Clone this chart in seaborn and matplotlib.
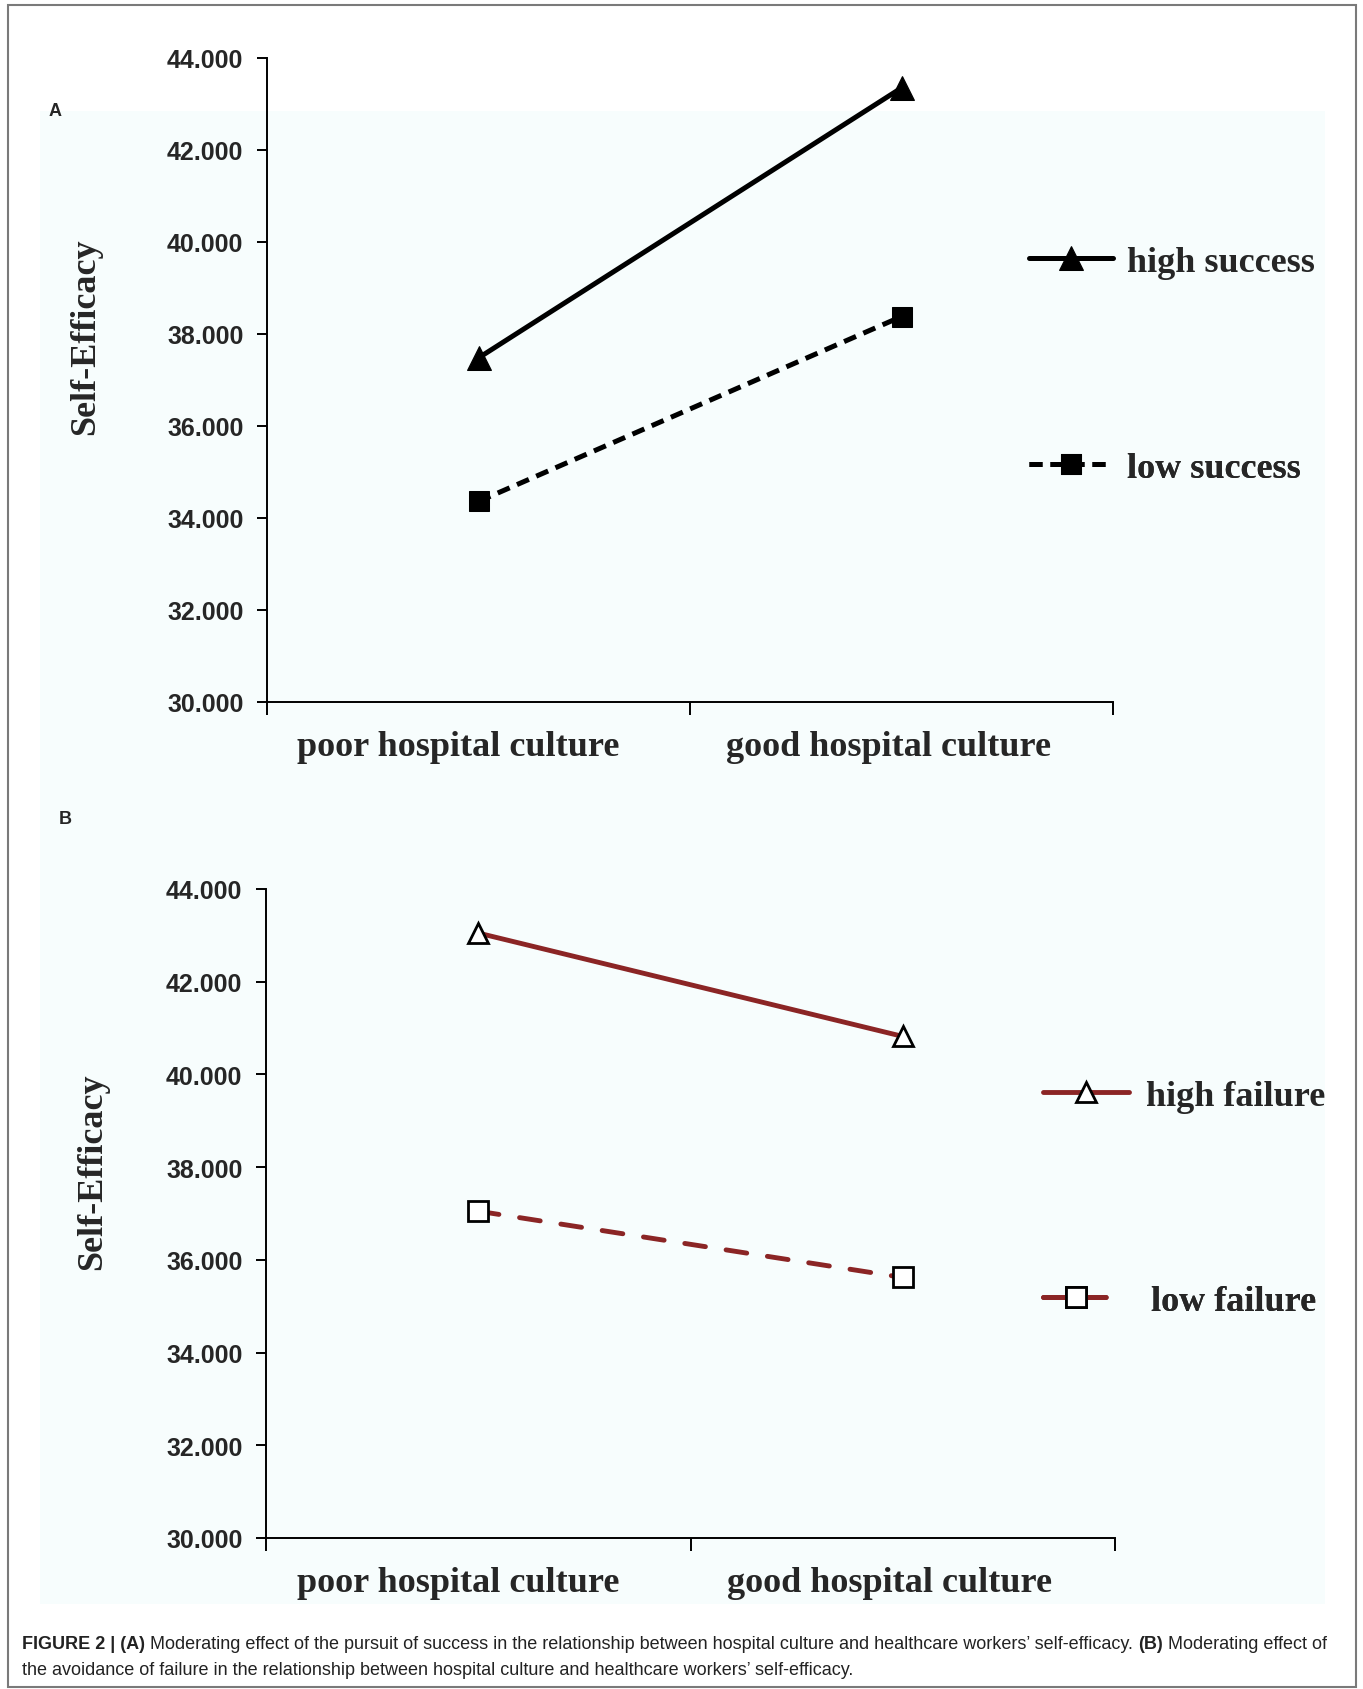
import numpy as np
import pandas as pd
import matplotlib
matplotlib.use("Agg")
import matplotlib.pyplot as plt
import seaborn as sns
from matplotlib.patches import Rectangle
from matplotlib.ticker import FixedLocator, FuncFormatter

# ---------------- data ----------------
categories = ["poor hospital culture", "good hospital culture"]
high_success = [37.48, 43.35]
low_success = [34.36, 38.38]
high_failure = [43.05, 40.82]
low_failure = [37.05, 35.62]
y_ticks = [30, 32, 34, 36, 38, 40, 42, 44]
legend_a = ["high success", "low success"]
legend_b = ["high failure", "low failure"]
caption_line1 = [("FIGURE 2 | (A)", "bold"),
                 ("Moderating effect of the pursuit of success in the relationship between hospital culture and healthcare workers\u2019 self-efficacy.", "normal"),
                 ("(B)", "bold"),
                 ("Moderating effect of", "normal")]
caption_line2 = [("the avoidance of failure in the relationship between hospital culture and healthcare workers\u2019 self-efficacy.", "normal")]

W, H = 1363, 1690
DPI = 100
sns.set_theme(style="white")
plt.rcParams["font.family"] = ["Liberation Sans", "DejaVu Sans"]

fig = plt.figure(figsize=(W / DPI, H / DPI), dpi=DPI, facecolor="white")

def fx(px):
    return px / W

def fy(py):
    return 1 - py / H

# light background panel + outer frame
fig.patches.append(Rectangle((fx(40), fy(1605)), fx(1325) - fx(40), fy(112) - fy(1605),
                             transform=fig.transFigure, facecolor="#f7fdfd", edgecolor="none", zorder=-10))
fig.patches.append(Rectangle((fx(8), fy(1688)), fx(1356) - fx(8), fy(6) - fy(1688),
                             transform=fig.transFigure, facecolor="none", edgecolor="#7a7a7a", lw=1.5, zorder=-10))

SERIF = ["Liberation Serif", "DejaVu Serif"]
RED = "#8b2525"

def make_axes(left, top, right, bottom):
    ax = fig.add_axes([fx(left), fy(bottom), fx(right) - fx(left), fy(top) - fy(bottom)])
    ax.set_facecolor("none")
    ax.set_zorder(1)
    return ax

def style_axes(ax):
    ax.set_xlim(-0.5, 1.5)
    ax.set_ylim(30, 44)
    for s in ["top", "right"]:
        ax.spines[s].set_visible(False)
    for s in ["left", "bottom"]:
        ax.spines[s].set_color("black")
        ax.spines[s].set_linewidth(1.4)
    ax.yaxis.set_major_locator(FixedLocator(y_ticks))
    ax.yaxis.set_major_formatter(FuncFormatter(lambda v, p: f"{v:.3f}"))
    ax.tick_params(axis="y", direction="out", length=7, width=1.4, color="black",
                   labelsize=18, pad=10, left=True)
    for lab in ax.get_yticklabels():
        lab.set_fontweight("bold")
        lab.set_family(["Liberation Sans", "DejaVu Sans"])
    ax.xaxis.set_major_locator(FixedLocator([-0.5, 0.5, 1.5]))
    # category labels sit slightly left of the category centres in the original
    ax.xaxis.set_minor_locator(FixedLocator([-0.048, 0.969]))
    ax.set_xticklabels([], minor=False)
    ax.set_xticklabels(categories, minor=True)
    ax.tick_params(axis="x", which="major", direction="out", length=9, width=1.4,
                   color="black", bottom=True)
    ax.tick_params(axis="x", which="minor", length=0, labelsize=26, pad=20, bottom=True)
    for lab in ax.get_xticklabels(minor=True):
        lab.set_fontweight("bold")
        lab.set_family(SERIF)
    ax.set_xlabel("")
    ax.set_ylabel("")

# ---------------- panel A ----------------
axA = make_axes(267, 59, 1113, 703)
sns.lineplot(x=categories, y=high_success, ax=axA, color="black", lw=3.6, marker="^",
             markersize=17, markeredgecolor="black", sort=False, errorbar=None)
lA1 = axA.lines[-1]
sns.lineplot(x=categories, y=low_success, ax=axA, color="black", lw=3.6, marker="s",
             markersize=15, markeredgecolor="black", sort=False, errorbar=None)
lA2 = axA.lines[-1]
lA2.set_dashes((2.6, 1.6))
style_axes(axA)
if axA.get_legend():
    axA.get_legend().remove()

# ---------------- panel B ----------------
axB = make_axes(266, 890, 1115, 1539)
sns.lineplot(x=categories, y=high_failure, ax=axB, color=RED, lw=3.5, marker="^",
             markersize=14, markerfacecolor="white", markeredgecolor="black",
             markeredgewidth=2.0, sort=False, errorbar=None)
lB1 = axB.lines[-1]
sns.lineplot(x=categories, y=low_failure, ax=axB, color=RED, lw=3.5, marker="s",
             markersize=14, markerfacecolor="white", markeredgecolor="black",
             markeredgewidth=2.0, sort=False, errorbar=None)
lB2 = axB.lines[-1]
lB2.set_dashes((4.3, 4.3))
lB2.set_dash_capstyle("round")
style_axes(axB)
if axB.get_legend():
    axB.get_legend().remove()

# ---------------- legends ----------------
def put_legend(ax, handle, label, x, y, hlen, pad):
    leg = ax.legend([handle], [label], loc="center left",
                    bbox_to_anchor=(fx(x), fy(y)), bbox_transform=fig.transFigure,
                    frameon=False, borderpad=0, borderaxespad=0, numpoints=1,
                    handlelength=hlen, handletextpad=pad,
                    prop={"family": SERIF, "weight": "bold", "size": 26})
    ax.add_artist(leg)
    return leg

put_legend(axA, lA1, legend_a[0], 1029, 263, 2.33, 0.39)
put_legend(axA, lA2, legend_a[1], 1029, 469, 2.33, 0.39)
put_legend(axB, lB1, legend_b[0], 1043, 1097, 2.38, 0.47)
put_legend(axB, lB2, legend_b[1], 1043, 1302, 1.85, 1.13)

# ---------------- y labels & panel letters ----------------
fig.text(fx(86), fy(337), "Self-Efficacy", rotation=90, ha="center", va="center",
         family=SERIF, weight="bold", size=26)
fig.text(fx(93), fy(1172), "Self-Efficacy", rotation=90, ha="center", va="center",
         family=SERIF, weight="bold", size=26)
fig.text(fx(49), fy(111), "A", ha="left", va="center", weight="bold", size=13)
fig.text(fx(59), fy(820), "B", ha="left", va="center", weight="bold", size=13)

# ---------------- caption ----------------
renderer = fig.canvas.get_renderer()
CAP_SIZE = 13.0

def rich_line(x0, y, pieces, size):
    x = x0
    space = 0.278 * size * DPI / 72
    for i, (txt, wt) in enumerate(pieces):
        t = fig.text(fx(x), fy(y), txt, ha="left", va="center", size=size,
                     weight=wt, color="#222222")
        bb = t.get_window_extent(renderer)
        x += bb.width + space

rich_line(22, 1645, caption_line1, CAP_SIZE)
rich_line(22, 1671, caption_line2, CAP_SIZE)

fig.savefig("out.png", dpi=DPI, facecolor="white")
